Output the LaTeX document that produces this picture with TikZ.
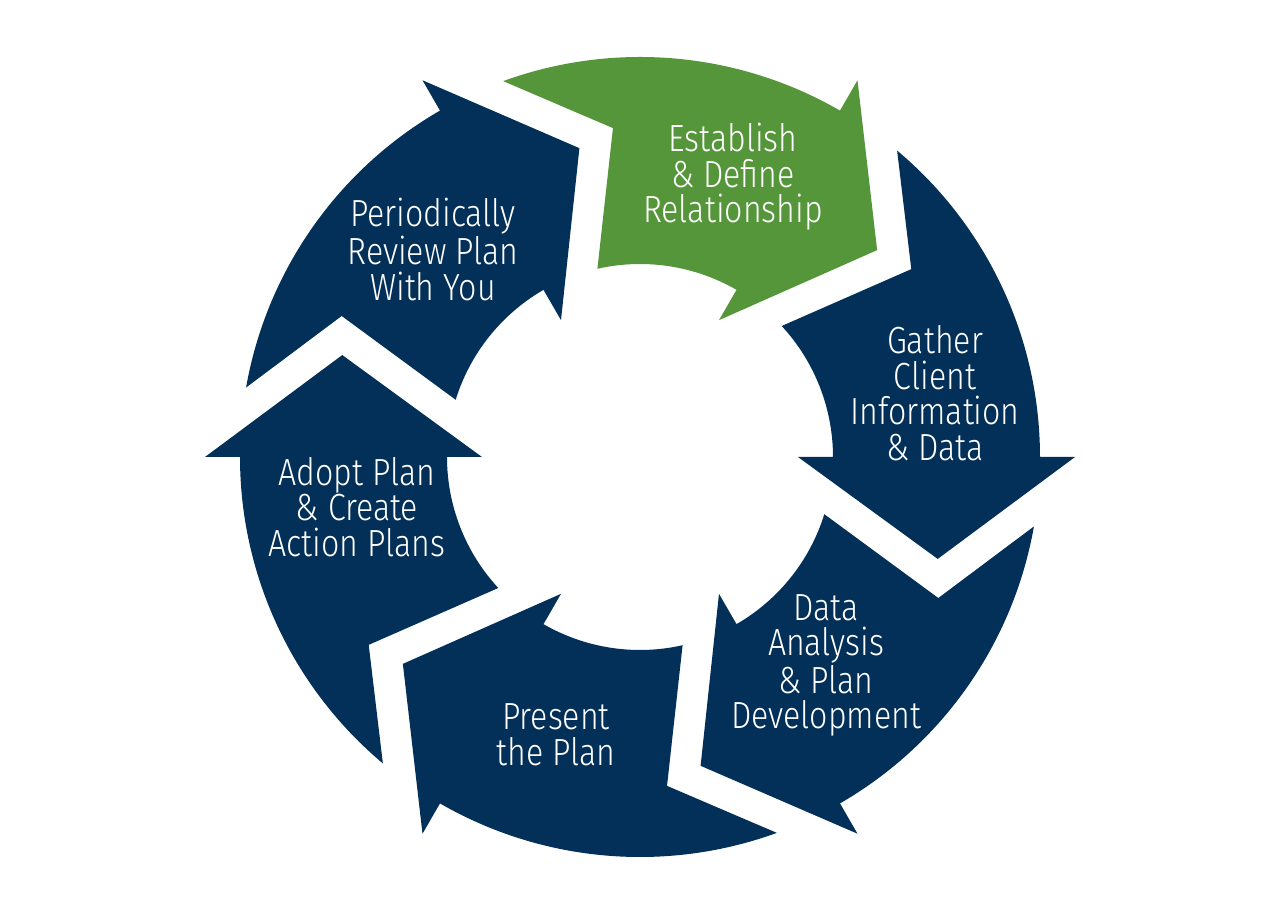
\documentclass[tikz,border=0pt]{standalone}
\usepackage{fontspec}
\IfFontExistsTF{Fira Sans Light}{\setmainfont{Fira Sans Light}[FakeStretch=0.85]}{\setmainfont{Fira Sans}[FakeStretch=0.85]}
\usepackage{tikz}
\definecolor{navyb}{RGB}{3,48,88}
\definecolor{grn}{RGB}{85,150,58}

\tikzset{lbl/.style={text=white,align=center,font=\fontsize{21.5}{20.2}\selectfont,inner sep=0pt}}

\begin{document}
\begin{tikzpicture}
\useasboundingbox (-12.8,-9.14) rectangle (12.8,9.14);

\foreach \a/\col in {0/grn,-60/navyb,-120/navyb,-180/navyb,-240/navyb,-300/navyb}{
\fill[\col,rotate=\a] (110:8) arc (110:60:8) -- (60:8.7) -- (41.1:6.294) -- (60:3.16)
  -- (60:3.86) arc (60:102.75:3.86) -- (94.7:6.6) -- cycle;
}

\node[lbl] (establish) at (1.86,5.6) {Establish\\\& Define\\Relationship};
\node[lbl] (gather) at (5.9,1.28) {Gather\\Client\\Information\\\& Data};
\node[lbl] (analysis) at (3.72,-4.17) {Data\\Analysis\\\& Plan\\Development};
\node[lbl] (present) at (-1.68,-5.56) {Present\\the Plan};
\node[lbl] (adopt) at (-5.66,-1.0) {Adopt Plan\\\& Create\\Action Plans};
\node[lbl] (review) at (-4.14,4.15) {Periodically\\Review Plan\\With You};
\end{tikzpicture}
\end{document}
